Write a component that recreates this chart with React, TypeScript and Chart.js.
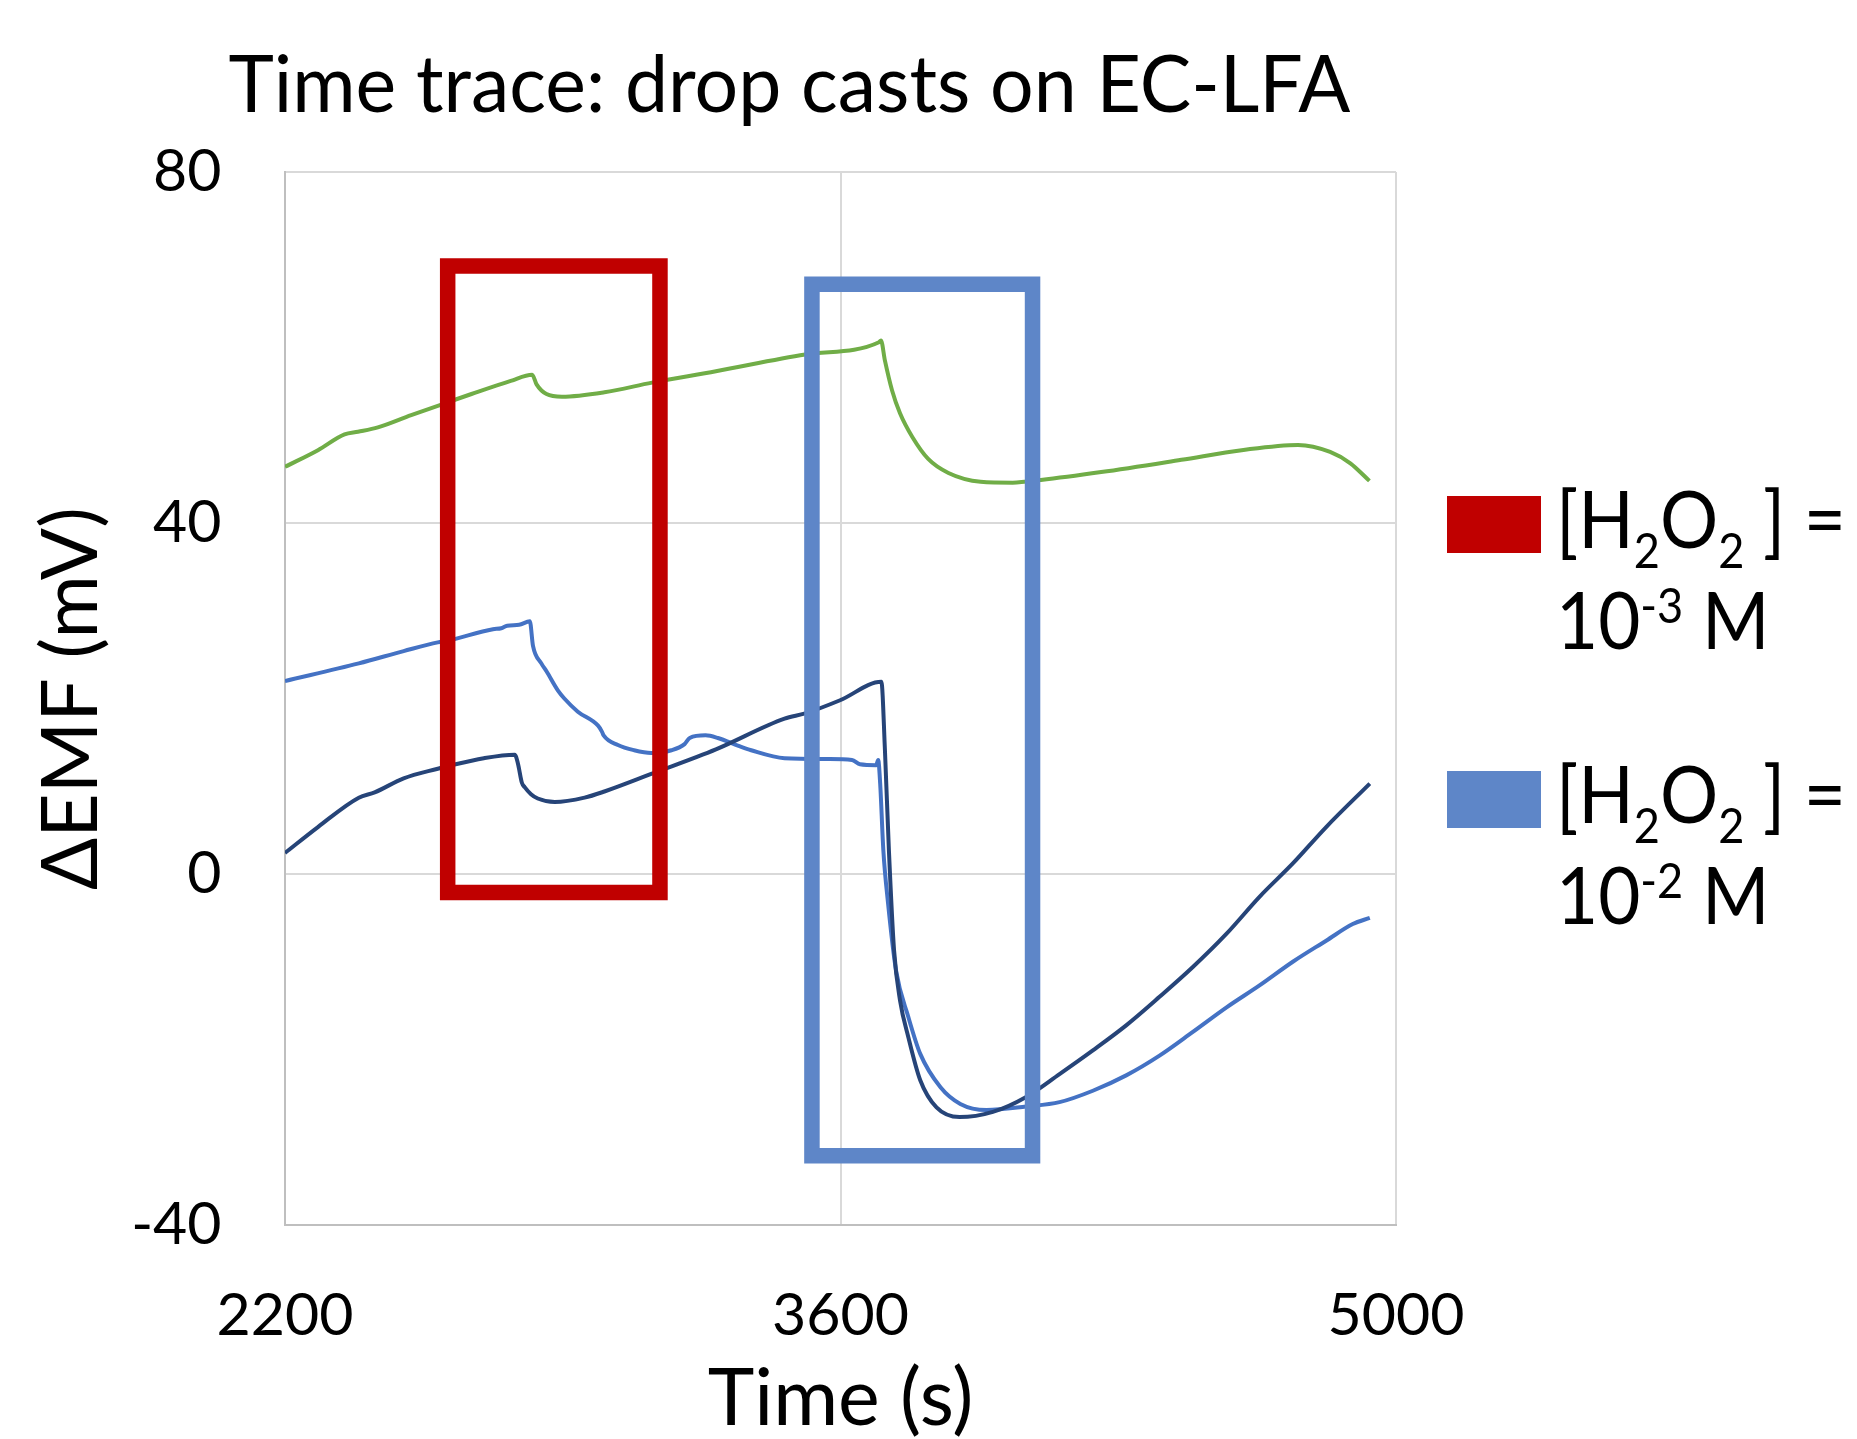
import React, { useEffect, useRef } from "react";
import { Chart, registerables } from "chart.js";

Chart.register(...registerables);

// ---------- data ----------
const xTicks = [2200, 3600, 5000];
const yTicks = [-40, 0, 40, 80];

const greenT = [2200, 2283, 2350, 2384, 2434, 2518, 2594, 2670, 2769, 2823, 2834, 2859, 2898, 3005, 3125, 3286, 3511, 3697, 3702, 3712, 3730, 3750, 3781, 3821, 3872, 3953, 4034, 4105, 4257, 4459, 4611, 4753, 4834, 4885, 4933];
const greenV = [46.4, 48.3, 50.1, 50.4, 50.9, 52.3, 53.5, 54.7, 56.2, 56.9, 55.8, 54.7, 54.4, 54.9, 56.0, 57.3, 59.2, 60.6, 60.8, 58.5, 55.1, 52.5, 49.8, 47.3, 45.7, 44.7, 44.6, 44.9, 45.8, 47.2, 48.3, 48.9, 48.1, 46.8, 44.8];

const blueT = [2200, 2386, 2499, 2585, 2611, 2724, 2745, 2760, 2790, 2817, 2825, 2846, 2859, 2888, 2904, 2938, 2989, 2999, 3003, 3039, 3080, 3123, 3174, 3207, 3220, 3260, 3291, 3343, 3375, 3459, 3568, 3629, 3649, 3690, 3695, 3700, 3708, 3720, 3740, 3771, 3801, 3852, 3902, 3968, 4068, 4152, 4236, 4320, 4404, 4488, 4573, 4656, 4740, 4824, 4891, 4934];
const blueV = [22.0, 24.0, 25.4, 26.4, 26.6, 27.9, 28.0, 28.3, 28.4, 28.8, 26.0, 24.0, 23.1, 20.9, 20.0, 18.5, 16.9, 16.2, 15.8, 14.7, 14.1, 13.8, 14.1, 14.8, 15.5, 15.8, 15.5, 14.6, 14.1, 13.2, 13.1, 13.0, 12.5, 12.4, 13.0, 10.3, 2.7, -3.4, -11.0, -16.3, -20.5, -24.3, -26.2, -26.9, -26.5, -26.0, -24.7, -22.95, -20.7, -18.0, -15.2, -12.7, -10.0, -7.6, -5.7, -5.0];

const navyT = [2200, 2283, 2386, 2426, 2499, 2585, 2611, 2701, 2779, 2787, 2797, 2804, 2820, 2837, 2880, 2955, 3005, 3123, 3286, 3459, 3511, 3599, 3703, 3712, 3722, 3735, 3750, 3771, 3801, 3842, 3900, 3984, 4068, 4152, 4236, 4320, 4404, 4488, 4573, 4656, 4740, 4824, 4934];
const navyV = [2.4, 5.35, 8.7, 9.3, 10.9, 12.0, 12.3, 13.2, 13.6, 12.6, 10.4, 9.9, 9.1, 8.6, 8.2, 8.7, 9.4, 11.4, 14.2, 17.7, 18.3, 19.8, 21.9, 14.1, 2.7, -8.7, -14.4, -18.6, -23.5, -26.6, -27.7, -27.1, -25.4, -22.8, -20.1, -17.25, -14.0, -10.6, -6.8, -2.6, 1.2, 5.35, 10.3];

// highlight boxes: [left time, right time], [top value, bottom value]
const redBoxT = [2610, 3145];
const redBoxV = [69.3, -2.1];
const blueBoxT = [3528, 4084];
const blueBoxV = [67.2, -32.1];

const titleText = "Time trace: drop casts on EC-LFA";
const xTitle = "Time (s)";
const yTitle = "\u0394EMF (mV)";
const legendExps = ["-3", "-2"];

// ---------- styles ----------
const FONT = "Lato, 'Open Sans', sans-serif";
const GREEN = "#70AD47";
const BLUE = "#4472C4";
const NAVY = "#264478";
const RED_BOX = "#C00000";
const BLUE_BOX = "#5E86C8";
const legendColors = [RED_BOX, BLUE_BOX];

const toPts = (t: number[], v: number[]) => t.map((x, i) => ({ x, y: v[i] }));
const boxPts = (t: number[], v: number[]) => [
  { x: t[0], y: v[0] },
  { x: t[1], y: v[0] },
  { x: t[1], y: v[1] },
  { x: t[0], y: v[1] },
  { x: t[0], y: v[0] },
];

type Part = { s: string; big: boolean; dy: number };

const overlayPlugin = {
  id: "overlay",
  afterDraw(chart: any) {
    const ctx = chart.ctx as CanvasRenderingContext2D;
    const main = `79px ${FONT}`;
    const small = `49px ${FONT}`;
    ctx.save();
    ctx.fillStyle = "#000";
    ctx.textBaseline = "alphabetic";

    // title, fitted to the reference width
    ctx.font = main;
    ctx.textAlign = "left";
    const tw = ctx.measureText(titleText).width;
    const tsx = 1122 / tw;
    ctx.save();
    ctx.translate(789.5 - 561, 112);
    ctx.scale(tsx, 1);
    ctx.fillText(titleText, 0, 0);
    ctx.restore();

    const widthOf = (parts: Part[]) =>
      parts.reduce((w, p) => {
        ctx.font = p.big ? main : small;
        return w + ctx.measureText(p.s).width;
      }, 0);
    const drawParts = (parts: Part[], x0: number, base: number, sx: number) => {
      ctx.save();
      ctx.translate(x0, base);
      ctx.scale(sx, 1);
      let x = 0;
      parts.forEach((p) => {
        ctx.font = p.big ? main : small;
        ctx.fillText(p.s, x, p.dy);
        x += ctx.measureText(p.s).width;
      });
      ctx.restore();
    };

    const swatchTops = [496, 771];
    legendExps.forEach((exp, i) => {
      const top = swatchTops[i];
      ctx.fillStyle = legendColors[i];
      ctx.fillRect(1447, top, 94, 57);
      ctx.fillStyle = "#000";
      const b1 = top + 52;
      const b2 = b1 + 101;
      const line1: Part[] = [
        { s: "[H", big: true, dy: 0 },
        { s: "2", big: false, dy: 20 },
        { s: "O", big: true, dy: 0 },
        { s: "2", big: false, dy: 20 },
        { s: " ] =", big: true, dy: 0 },
      ];
      const line2: Part[] = [
        { s: "10", big: true, dy: 0 },
        { s: exp, big: false, dy: -26 },
        { s: " M", big: true, dy: 0 },
      ];
      const sx = 290 / widthOf(line1);
      drawParts(line1, 1556, b1, sx);
      drawParts(line2, 1556, b2, sx);
    });
    ctx.restore();
  },
};

export default function App() {
  const ref = useRef<HTMLCanvasElement | null>(null);

  useEffect(() => {
    document.body.style.margin = "0";
    document.body.style.overflow = "hidden";
    const canvas = ref.current;
    if (!canvas) return;
    const curve = (data: any, color: string, order: number) => ({
      data,
      borderColor: color,
      borderWidth: 4,
      pointRadius: 0,
      cubicInterpolationMode: "monotone",
      fill: false,
      order,
    });
    const box = (data: any, color: string) => ({
      data,
      borderColor: color,
      borderWidth: 15.5,
      borderJoinStyle: "miter",
      borderCapStyle: "square",
      pointRadius: 0,
      tension: 0,
      fill: false,
      order: 0,
    });
    const chart = new Chart(canvas, {
      type: "line",
      data: {
        datasets: [
          box(boxPts(redBoxT, redBoxV), RED_BOX),
          box(boxPts(blueBoxT, blueBoxV), BLUE_BOX),
          curve(toPts(navyT, navyV), NAVY, 1),
          curve(toPts(blueT, blueV), BLUE, 2),
          curve(toPts(greenT, greenV), GREEN, 3),
        ],
      },
      options: {
        responsive: false,
        animation: false,
        devicePixelRatio: 1,
        layout: { padding: { left: 0, right: 461, top: 172, bottom: 0 } },
        plugins: {
          legend: { display: false },
          title: { display: false },
          tooltip: { enabled: false },
        },
        scales: {
          x: {
            type: "linear",
            min: 2200,
            max: 5000,
            afterBuildTicks: (s: any) => {
              s.ticks = xTicks.map((value) => ({ value }));
            },
            afterFit: (s: any) => {
              s.height = 214;
            },
            ticks: {
              color: "#000",
              padding: 56,
              font: { family: FONT, size: 59, lineHeight: 1.2 },
              maxRotation: 0,
              autoSkip: false,
              callback: (v: any) => String(v),
            },
            grid: { color: "#D9D9D9", lineWidth: 2, drawTicks: false },
            border: { color: "#BFBFBF", width: 2 },
            title: {
              display: true,
              text: xTitle,
              color: "#000",
              font: { family: FONT, size: 79, lineHeight: 1 },
              padding: { top: 0, bottom: 0 },
            },
          },
          y: {
            type: "linear",
            min: -40,
            max: 80,
            afterBuildTicks: (s: any) => {
              s.ticks = yTicks.map((value) => ({ value }));
            },
            afterFit: (s: any) => {
              s.width = 285;
            },
            ticks: {
              color: "#000",
              padding: 63.5,
              font: { family: FONT, size: 59, lineHeight: 1.2 },
              autoSkip: false,
              callback: (v: any) => String(v),
            },
            grid: { color: "#D9D9D9", lineWidth: 2, drawTicks: false },
            border: { color: "#BFBFBF", width: 2 },
            title: {
              display: true,
              text: yTitle,
              color: "#000",
              font: { family: FONT, size: 77, lineHeight: 1 },
              padding: { top: 34, bottom: 0 },
            },
          },
        },
      },
      plugins: [overlayPlugin],
    } as any);
    return () => chart.destroy();
  }, []);

  return (
    <div style={{ width: 1857, height: 1439, background: "#fff" }}>
      <canvas ref={ref} width={1857} height={1439} style={{ display: "block", width: 1857, height: 1439 }} />
    </div>
  );
}
